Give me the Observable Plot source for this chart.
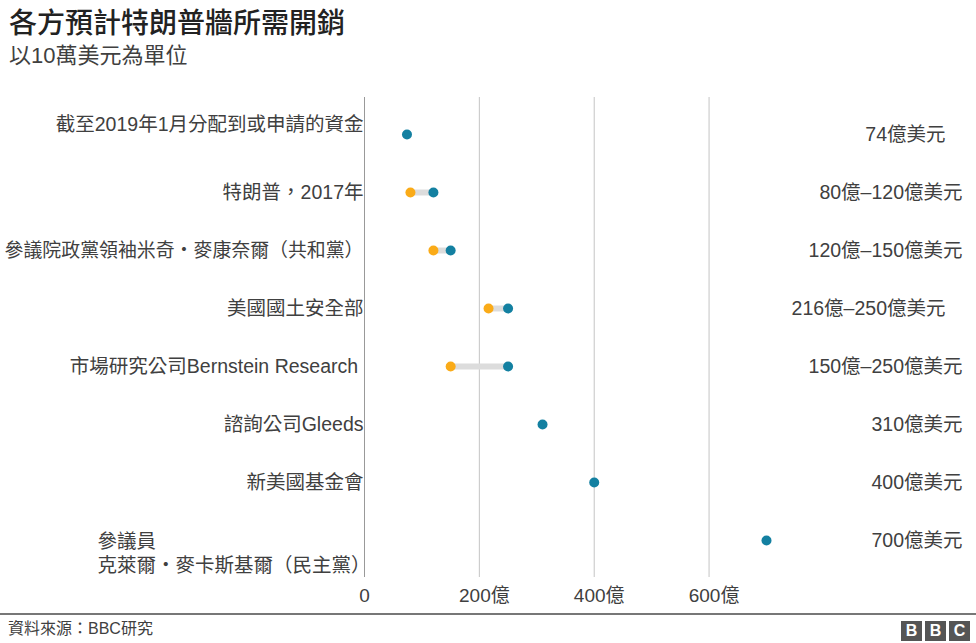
<!DOCTYPE html>
<html lang="zh-Hant">
<head>
<meta charset="utf-8">
<script src="https://cdn.jsdelivr.net/npm/d3@7"></script>
<script src="https://cdn.jsdelivr.net/npm/@observablehq/plot@0.6"></script>
<style>
  html, body { margin: 0; padding: 0; background: #fff; }
  body { width: 976px; height: 643px; overflow: hidden; font-family: "Liberation Sans", "Noto Sans CJK TC", sans-serif; color: #404040; }
  #title { font-size: 28px; line-height: 38px; margin-top: 2px; padding-left: 9px; font-weight: 500; color: #222; font-family: "Noto Sans CJK TC", sans-serif; }
  #subtitle { font-size: 22px; line-height: 30px; padding-top: 1px; padding-left: 9px; height: 31px; color: #404040; }
  #chart svg { display: block; overflow: visible; }
  #footer { border-top: 2px solid #777; height: 28px; position: relative; width: 976px; }
  #source { position: absolute; left: 8px; top: 4px; font-size: 16px; line-height: 20px; color: #404040; }
  #bbc { position: absolute; right: 6px; top: 6px; display: flex; gap: 3px; }
  #bbc span { display: block; width: 21px; height: 20px; background: #555; color: #fff; font: bold 16px/20px "Liberation Sans", sans-serif; text-align: center; }
</style>
</head>
<body>
<div id="title">各方預計特朗普牆所需開銷</div>
<div id="subtitle">以10萬美元為單位</div>
<div id="chart"></div>
<div id="footer"><div id="source">資料來源：BBC研究</div><div id="bbc"><span>B</span><span>B</span><span>C</span></div></div>
<script>
const labels = [
  "截至2019年1月分配到或申請的資金",
  "特朗普，2017年",
  "參議院政黨領袖米奇・麥康奈爾（共和黨）",
  "美國國土安全部",
  "市場研究公司Bernstein Research\u00a0",
  "諮詢公司Gleeds",
  "新美國基金會",
  "參議員\n克萊爾・麥卡斯基爾（民主黨）"
];
const lows  = [null, 80, 120, 216, 150, null, null, null];
const highs = [74, 120, 150, 250, 250, 310, 400, 700];
const valueLabels = [
  "74億美元",
  "80億–120億美元",
  "120億–150億美元",
  "216億–250億美元",
  "150億–250億美元",
  "310億美元",
  "400億美元",
  "700億美元"
];
const xTicks = [0, 200, 400, 600];
const xTickLabels = ["0", "200億", "400億", "600億"];

const rows = labels.map((label, i) => ({label, low: lows[i], high: highs[i], value: valueLabels[i], i}));
const ranged = rows.filter(d => d.low != null);
const tickFmt = v => xTickLabels[xTicks.indexOf(v)];

const teal = "#1380A1", orange = "#FAAB18";
const textColor = "#404040";
const fs = 19.5;

const chart = Plot.plot({
  width: 976,
  height: 541,
  marginLeft: 364,
  marginRight: 210,
  marginTop: 25,
  marginBottom: 36,
  style: {fontFamily: '"Liberation Sans", "Noto Sans CJK TC", sans-serif', fontSize: fs + "px", color: textColor, background: "white", overflow: "visible"},
  x: {domain: [0, 700]},
  y: {type: "point", domain: labels, padding: 0.61, axis: null},
  marks: [
    Plot.ruleX(xTicks.filter(v => v > 0), {stroke: "#c4c4c4", strokeWidth: 1}),
    Plot.ruleX([0], {stroke: "#999", strokeWidth: 1}),
    Plot.axisX([0], {tickSize: 0, tickPadding: 11, tickFormat: tickFmt, fontSize: 19, fill: textColor, label: null}),
    Plot.axisX(xTicks.filter(v => v > 0), {tickSize: 0, tickPadding: 11, tickFormat: tickFmt, fontSize: 19, fill: textColor, label: null, dx: 5}),
    Plot.link(ranged, {x1: "low", x2: "high", y1: "label", y2: "label", stroke: "#dcdcdc", strokeWidth: 6}),
    Plot.dot(ranged, {x: "low", y: "label", r: 5, fill: orange}),
    Plot.dot(rows, {x: "high", y: "label", r: 5, fill: teal}),
    // left labels
    Plot.text(rows.filter(d => d.i === 0), {y: "label", text: "label", frameAnchor: "left", textAnchor: "end", dx: -1, dy: -10, fill: textColor, fontSize: fs}),
    Plot.text(rows.filter(d => d.i === 2), {y: "label", text: "label", frameAnchor: "left", textAnchor: "end", dx: -1, fill: textColor, fontSize: 18.9}),
    Plot.text(rows.filter(d => d.i > 0 && d.i < 7 && d.i !== 2), {y: "label", text: "label", frameAnchor: "left", textAnchor: "end", dx: -1, fill: textColor, fontSize: fs}),
    Plot.text(rows.filter(d => d.i === 7), {y: "label", text: "label", frameAnchor: "left", textAnchor: "start", dx: -267, dy: 12, lineHeight: 1.25, fill: textColor, fontSize: fs}),
    // right value labels
    Plot.text(rows.filter(d => d.i === 0 || d.i === 3), {y: "label", text: "value", frameAnchor: "right", textAnchor: "end", dx: 179, fill: textColor, fontSize: fs}),
    Plot.text(rows.filter(d => d.i !== 0 && d.i !== 3), {y: "label", text: "value", frameAnchor: "right", textAnchor: "end", dx: 196, fill: textColor, fontSize: fs})
  ]
});
document.getElementById("chart").appendChild(chart);
</script>
</body>
</html>
